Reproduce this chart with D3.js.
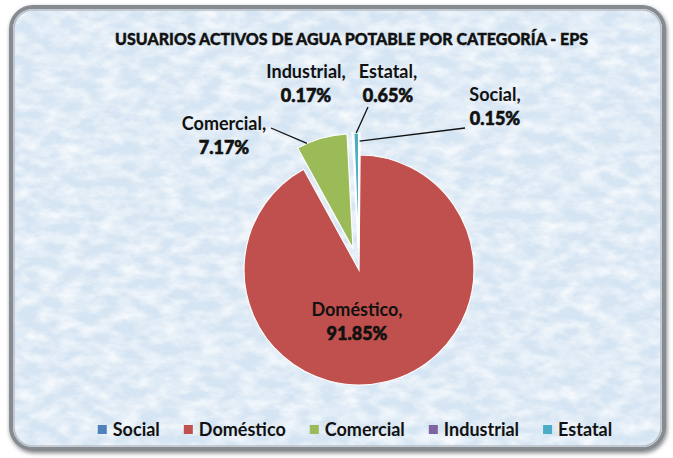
<!DOCTYPE html>
<html>
<head>
<meta charset="utf-8">
<script src="https://cdn.jsdelivr.net/npm/d3@7"></script>
<style>
  body { margin: 0; background: #ffffff; }
</style>
</head>
<body>
<div class="canvas"></div>
<script>
// data
const categories = ["Social", "Doméstico", "Comercial", "Industrial", "Estatal"];
const percents = [0.15, 91.85, 7.17, 0.17, 0.65];
const labelTexts = ["0.15%", "91.85%", "7.17%", "0.17%", "0.65%"];
const title = "USUARIOS ACTIVOS DE AGUA POTABLE POR CATEGORÍA - EPS";

const width = 673;
const height = 458;
const cx = 359;
const cy = 270;
const radius = 115;
const explode = 22;

const colors = ["#4f81bd", "#c0504d", "#9bbb59", "#8064a2", "#4bacc6"];

// label layout relative to pie center (dx, dy of first line baseline)
const labelPos = [[136, -169], [-2, 46], [-135, -140], [-53, -192], [29, -192]];
// leader lines: [label end dx, dy, fraction along slice, radius factor] (null = no line)
const leaders = [[106, -142, 0.5, 0.93], null, [-88, -142, 0.2, 1.0], null, [9, -163, 0.5, 1.0]];

const svg = d3
  .select(".canvas")
  .append("svg")
  .attr("width", width)
  .attr("height", height);

const defs = svg.append("defs");

const tex = defs
  .append("filter")
  .attr("id", "tex")
  .attr("x", 0)
  .attr("y", 0)
  .attr("width", "100%")
  .attr("height", "100%");
tex
  .append("feTurbulence")
  .attr("type", "fractalNoise")
  .attr("baseFrequency", "0.05 0.09")
  .attr("numOctaves", 4)
  .attr("seed", 7)
  .attr("result", "n");
tex
  .append("feColorMatrix")
  .attr("in", "n")
  .attr("type", "matrix")
  .attr("values", "0 0 0 0 1  0 0 0 0 1  0 0 0 0 1  1.5 0 0 0 -0.5")
  .attr("result", "w");
tex
  .append("feComposite")
  .attr("in", "w")
  .attr("in2", "SourceGraphic")
  .attr("operator", "in");

const shadow = defs.append("filter").attr("id", "shadow").attr("x", "-5%").attr("y", "-5%").attr("width", "110%").attr("height", "110%");
shadow.append("feGaussianBlur").attr("in", "SourceAlpha").attr("stdDeviation", 2).attr("result", "b");
shadow.append("feOffset").attr("in", "b").attr("dx", 1).attr("dy", 2).attr("result", "o");
shadow.append("feComponentTransfer").attr("in", "o").attr("result", "s")
  .append("feFuncA").attr("type", "linear").attr("slope", 0.5);
const merge = shadow.append("feMerge");
merge.append("feMergeNode").attr("in", "s");
merge.append("feMergeNode").attr("in", "SourceGraphic");

// background frame
svg
  .append("rect")
  .attr("x", 11)
  .attr("y", 7)
  .attr("width", 653)
  .attr("height", 442)
  .attr("rx", 22)
  .attr("fill", "#d6e5f3")
  .attr("stroke", "#868b92")
  .attr("stroke-width", 4)
  .attr("filter", "url(#shadow)");

svg
  .append("rect")
  .attr("x", 13)
  .attr("y", 9)
  .attr("width", 649)
  .attr("height", 438)
  .attr("rx", 20)
  .attr("fill", "#000")
  .attr("filter", "url(#tex)");

svg
  .append("rect")
  .attr("x", 14)
  .attr("y", 10)
  .attr("width", 647)
  .attr("height", 436)
  .attr("rx", 19)
  .attr("fill", "none")
  .attr("stroke", "#b9bec5")
  .attr("stroke-width", 1.5);

// title
svg
  .append("text")
  .text(title)
  .attr("x", 351.5)
  .attr("y", 45)
  .attr("text-anchor", "middle")
  .attr("font-family", "Lato, sans-serif")
  .attr("font-weight", 900)
  .attr("font-size", 17)
  .attr("textLength", 473)
  .attr("lengthAdjust", "spacingAndGlyphs")
  .attr("fill", "#111")
  .attr("stroke", "#111")
  .attr("stroke-width", 0.4);

// pie
const pie = d3.pie().sort(null).value((d) => d);
const arcs = pie(percents);
const arc = d3.arc().innerRadius(0).outerRadius(radius);

const graph = svg.append("g").attr("transform", `translate(${cx},${cy})`);

function offsetOf(d, i) {
  if (i === 1) return [0, 0];
  const mid = (d.startAngle + d.endAngle) / 2;
  return [Math.sin(mid) * explode, -Math.cos(mid) * explode];
}

graph
  .selectAll("path.slice")
  .data(arcs)
  .enter()
  .append("path")
  .attr("class", "slice")
  .attr("d", arc)
  .attr("transform", (d, i) => {
    const o = offsetOf(d, i);
    return `translate(${o[0]},${o[1]})`;
  })
  .attr("fill", (d, i) => colors[i])
  .attr("stroke", "#ffffff")
  .attr("stroke-width", 1.2);

// leader lines
arcs.forEach((d, i) => {
  const l = leaders[i];
  if (!l) return;
  const o = offsetOf(d, i);
  const a = d.startAngle + l[2] * (d.endAngle - d.startAngle);
  const r = radius * l[3];
  graph
    .append("line")
    .attr("x1", l[0])
    .attr("y1", l[1])
    .attr("x2", Math.sin(a) * r + o[0])
    .attr("y2", -Math.cos(a) * r + o[1])
    .attr("stroke", "#111")
    .attr("stroke-width", 1.3);
});

// data labels
arcs.forEach((d, i) => {
  const t = graph
    .append("text")
    .attr("x", labelPos[i][0])
    .attr("y", labelPos[i][1])
    .attr("text-anchor", "middle")
    .attr("font-family", "Lato, sans-serif")
    .attr("font-size", 18)
    .attr("fill", "#111");
  t.append("tspan")
    .attr("x", labelPos[i][0])
    .attr("font-weight", "bold")
    .text(categories[i] + ",");
  t.append("tspan")
    .attr("x", labelPos[i][0])
    .attr("dy", 24)
    .attr("font-weight", 900)
    .attr("stroke", "#111")
    .attr("stroke-width", 0.6)
    .text(labelTexts[i]);
});

// legend
const legend = svg.append("g");
let lx = 0;
categories.forEach((c, i) => {
  const item = legend.append("g").attr("transform", `translate(${lx},0)`);
  item
    .append("rect")
    .attr("x", 0)
    .attr("y", -11)
    .attr("width", 9)
    .attr("height", 9)
    .attr("fill", colors[i]);
  const txt = item
    .append("text")
    .text(c)
    .attr("x", 15)
    .attr("y", 0)
    .attr("font-family", "Lato, sans-serif")
    .attr("font-weight", "bold")
    .attr("font-size", 18)
    .attr("fill", "#111");
  lx += 15 + txt.node().getComputedTextLength() + 24;
});
const legendW = lx - 24;
legend.attr("transform", `translate(${355 - legendW / 2},436)`);
</script>
</body>
</html>
